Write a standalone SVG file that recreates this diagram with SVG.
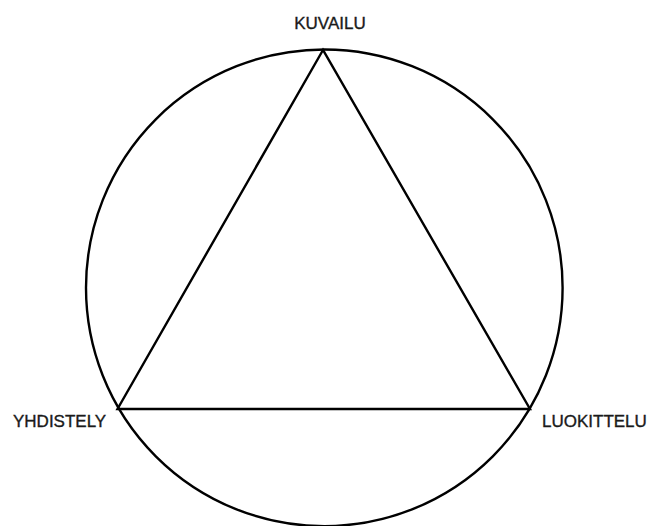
<svg xmlns="http://www.w3.org/2000/svg" width="648" height="526" viewBox="0 0 648 526">
<style>
.ln{fill:none;stroke:#000;stroke-width:2.4}
.lb{font-family:"Liberation Sans",Arial,sans-serif;font-size:17px;fill:#1a1a1a;stroke:#1a1a1a;stroke-width:0.35}
</style>
<rect width="648" height="526" fill="#fff"/>
<g id="circle"><circle class="ln" cx="324.3" cy="287.8" r="238.3"/></g>
<g id="connectors">
<path class="ln" d="M323,50 L117.5,409 L530,409 Z" stroke-linejoin="miter"/>
</g>
<g id="kuvailu"><text class="lb" x="330" y="29" text-anchor="middle">KUVAILU</text></g>
<g id="yhdistely"><text class="lb" x="13" y="427">YHDISTELY</text></g>
<g id="luokittelu"><text class="lb" x="542" y="427">LUOKITTELU</text></g>
</svg>
